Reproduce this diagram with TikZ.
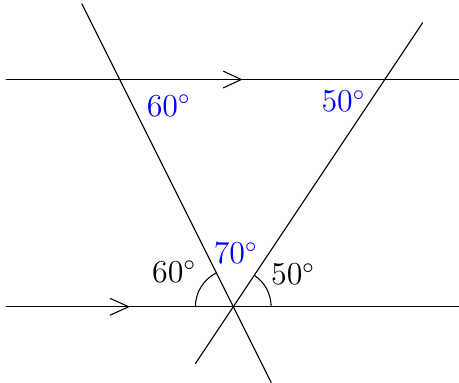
\documentclass[tikz,border=0pt]{standalone}
\usepackage{amssymb}
\tikzset{line/.style={draw=black,line width=.4pt},
 given/.style={text=black,font=\large},
 found/.style={text=blue,font=\large},
 every picture/.style={line join=round,line cap=round}}
\begin{document}
\begin{tikzpicture}[]
\useasboundingbox (-3.08,-1.00) rectangle (2.98,4.05);
\coordinate (O) at (0.000,0.000);
% the two parallel lines
\path[line] (-3.000,3.000) -- (3.000,3.000);
\path[line] (-3.000,0.000) -- (3.000,0.000);
\path[line] (-0.130,3.110) -- (0.105,3.000) -- (-0.130,2.890);
\path[line] (-1.625,0.110) -- (-1.380,0.000) -- (-1.625,-0.110);
% the two transversals through O
\path[line] (-2.000,4.000) -- (0.500,-1.000);
\path[line] (2.500,3.750) -- (-0.500,-0.750);
% angle arcs at O
\draw[line] (-0.500,0.000) arc[start angle=180,end angle=116.57,radius=0.5];
\draw[line] (0.500,0.000) arc[start angle=0,end angle=56.31,radius=0.5];
\node[given] (a60) at (-0.780,0.466) {$60^\circ$};
\node[given] (a50) at (0.790,0.430) {$50^\circ$};
\node[found] (b70) at (0.033,0.706) {$70^\circ$};
\node[found] (b60) at (-0.851,2.658) {$60^\circ$};
\node[found] (b50) at (1.456,2.712) {$50^\circ$};
\end{tikzpicture}
\end{document}
